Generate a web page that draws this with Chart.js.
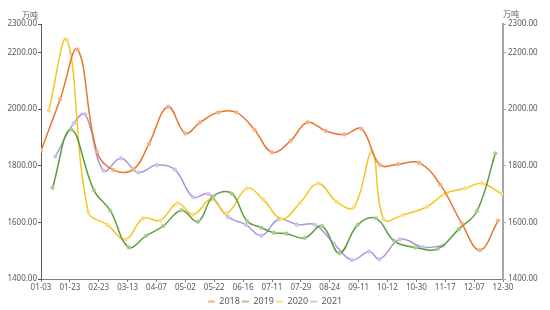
<!DOCTYPE html>
<html>
<head>
<meta charset="utf-8">
<script src="https://cdn.jsdelivr.net/npm/chart.js@4"></script>
<style>
  html, body { margin: 0; padding: 0; background: #fff; }
  #wrap { width: 550px; height: 310px; }
</style>
</head>
<body>
<div id="wrap"><canvas id="chart" width="550" height="310"></canvas></div>
<script>
// x positions are in category steps (0 = 01-03, 48 = 12-30), labels every 3 steps
const tickLabels = ['01-03', '01-23', '02-23', '03-13', '04-07', '05-02', '05-22', '06-16', '07-11',
    '07-29', '08-24', '09-11', '10-12', '10-30', '11-17', '12-07', '12-30'];
const yTicks = [1400, 1600, 1800, 2000, 2200, 2300];

const x2018 = [0, 2.0, 3.8, 5.8, 7.5, 9.6, 11.2, 13.2, 15.0, 16.5, 18.4, 20.3, 22.2, 24.0, 25.9,
    27.7, 29.6, 31.5, 33.3, 35.2, 37.1, 39.3, 41.5, 43.7, 45.6, 47.5];
const v2018 = [1853, 2035, 2210, 1850, 1785, 1787, 1876, 2008, 1914, 1952, 1988, 1988, 1926, 1847, 1887,
    1953, 1922, 1910, 1930, 1803, 1805, 1810, 1732, 1597, 1502, 1606];

const x2019 = [1.2, 3.1, 5.5, 7.2, 9.1, 10.9, 12.7, 14.6, 16.3, 17.9, 19.8, 21.4, 22.9, 24.2, 25.5,
    27.4, 29.2, 31.0, 32.9, 34.8, 36.7, 38.9, 41.2, 43.4, 45.3, 47.2];
const v2019 = [1722, 1928, 1713, 1641, 1512, 1552, 1587, 1643, 1602, 1692, 1702, 1605, 1581, 1563, 1560,
    1545, 1587, 1491, 1591, 1614, 1534, 1511, 1506, 1576, 1640, 1843];

const x2020 = [0.8, 2.7, 4.9, 6.9, 8.8, 10.6, 12.4, 14.2, 15.8, 17.7, 19.3, 21.4, 23.1, 25.0, 26.9,
    28.8, 30.7, 32.5, 34.4, 35.6, 37.6, 40.1, 42.0, 44.1, 45.8, 47.9];
const v2020 = [1994, 2244, 1638, 1591, 1540, 1614, 1607, 1668, 1627, 1682, 1632, 1720, 1680, 1612, 1668,
    1737, 1673, 1653, 1848, 1611, 1626, 1655, 1702, 1720, 1738, 1700];

const x2021 = [1.5, 3.4, 4.6, 6.5, 8.3, 10.1, 12.0, 13.9, 15.8, 17.4, 19.4, 21.3, 22.9, 24.7, 26.6,
    28.5, 30.4, 32.3, 34.1, 35.2, 37.3, 39.7, 41.8];
const v2021 = [1832, 1950, 1981, 1782, 1826, 1776, 1802, 1786, 1689, 1700, 1620, 1591, 1553, 1611, 1592,
    1591, 1526, 1467, 1497, 1470, 1540, 1512, 1518];

const textColor = '#595959';
const tickFont = { family: 'Noto Sans', size: 8 };

function toPoints(xs, vs) {
    return xs.map((x, i) => ({ x: x, y: vs[i] }));
}

function makeSeries(label, xs, vs, color, light) {
    return {
        label: label,
        data: toPoints(xs, vs),
        borderColor: color,
        backgroundColor: light,
        legendColor: light,
        borderWidth: 1.5,
        tension: 0.4,
        pointRadius: 1.8,
        pointBorderWidth: 0.8,
        pointBackgroundColor: light,
        pointBorderColor: light,
        fill: false,
        yAxisID: 'y'
    };
}

const unitLabels = {
    id: 'unitLabels',
    afterDraw(chart) {
        const ctx = chart.ctx;
        ctx.save();
        ctx.fillStyle = textColor;
        ctx.font = '8px "Noto Sans CJK SC"';
        ctx.textBaseline = 'middle';
        ctx.textAlign = 'right';
        ctx.fillText('万吨', chart.chartArea.left - 3, 15);
        ctx.textAlign = 'left';
        ctx.fillText('万吨', chart.chartArea.right, 14);
        ctx.restore();
    }
};

new Chart(document.getElementById('chart'), {
    type: 'line',
    data: {
        datasets: [
            makeSeries('2018', x2018, v2018, '#E8762D', '#F3B287'),
            makeSeries('2019', x2019, v2019, '#5E9D3C', '#A8CB92'),
            makeSeries('2020', x2020, v2020, '#F4C51F', '#F9DE84'),
            makeSeries('2021', x2021, v2021, '#A696DA', '#CEC5EC')
        ]
    },
    options: {
        responsive: false,
        maintainAspectRatio: false,
        animation: false,
        layout: { padding: { top: 24, left: 0, right: 0, bottom: -6 } },
        plugins: {
            legend: {
                position: 'bottom',
                labels: {
                    boxWidth: 7,
                    boxHeight: 2,
                    padding: 2,
                    color: textColor,
                    font: { family: 'Noto Sans', size: 9 },
                    generateLabels: (chart) => chart.data.datasets.map((ds, i) => ({
                        text: ds.label,
                        fillStyle: ds.legendColor,
                        strokeStyle: ds.legendColor,
                        lineWidth: 0,
                        fontColor: textColor,
                        datasetIndex: i
                    }))
                }
            },
            tooltip: { enabled: false }
        },
        scales: {
            x: {
                type: 'linear',
                min: 0,
                max: 48,
                afterBuildTicks: (scale) => {
                    scale.ticks = tickLabels.map((_, i) => ({ value: i * 3 }));
                },
                afterFit: (scale) => { scale.height = 16; },
                ticks: {
                    autoSkip: false,
                    maxRotation: 0,
                    padding: 1,
                    color: textColor,
                    font: tickFont,
                    callback: (value) => tickLabels[Math.round(value / 3)]
                },
                grid: { drawOnChartArea: false, drawTicks: true, tickLength: 3, color: '#7f7f7f' },
                border: { color: '#7f7f7f', width: 1 }
            },
            y: {
                position: 'left',
                min: 1400,
                max: 2300,
                afterBuildTicks: (scale) => {
                    scale.ticks = yTicks.map(v => ({ value: v }));
                },
                afterFit: (scale) => { scale.width = 41; },
                ticks: {
                    padding: 1,
                    color: textColor,
                    font: tickFont,
                    callback: (value) => Number(value).toFixed(2)
                },
                grid: { drawOnChartArea: false, drawTicks: true, tickLength: 3, color: '#595959' },
                border: { color: '#595959', width: 1 }
            },
            y1: {
                position: 'right',
                min: 1400,
                max: 2300,
                afterBuildTicks: (scale) => {
                    scale.ticks = yTicks.map(v => ({ value: v }));
                },
                afterFit: (scale) => { scale.width = 47; },
                ticks: {
                    padding: 2,
                    color: textColor,
                    font: tickFont,
                    callback: (value) => Number(value).toFixed(2)
                },
                grid: { drawOnChartArea: false, drawTicks: true, tickLength: 3, color: '#a6a6a6' },
                border: { color: '#a6a6a6', width: 2 }
            }
        }
    },
    plugins: [unitLabels]
});
</script>
</body>
</html>
